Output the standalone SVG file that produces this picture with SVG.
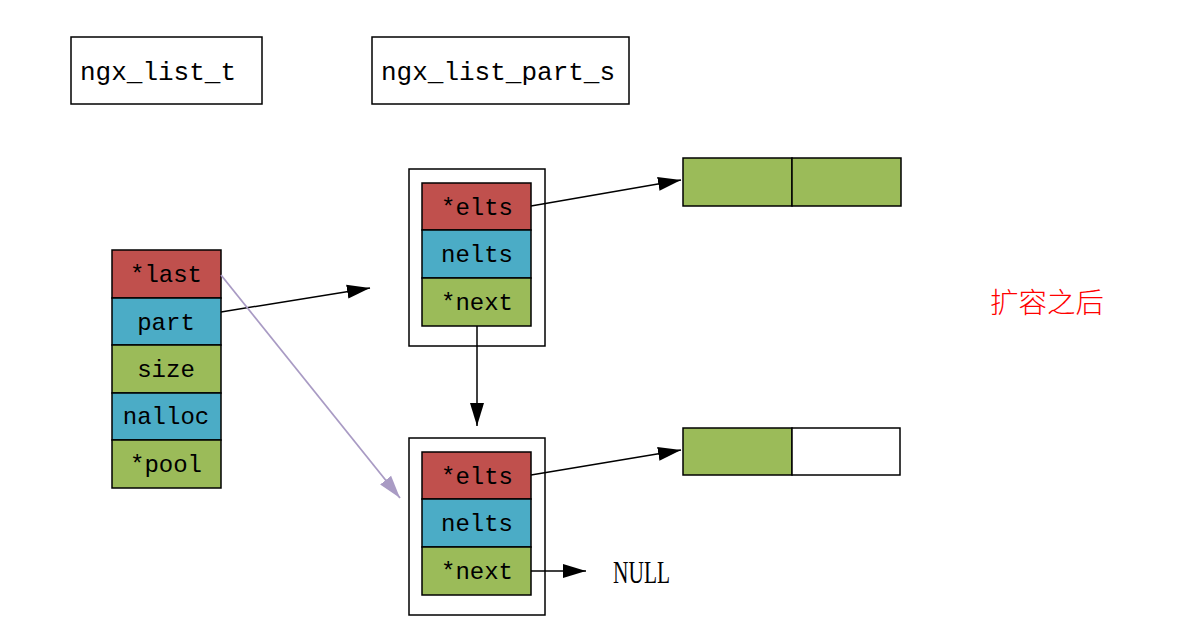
<svg xmlns="http://www.w3.org/2000/svg" width="1200" height="632" viewBox="0 0 1200 632">
<defs>
<style>
.box{fill:#fff;stroke:#000;stroke-width:1.5}
.r{fill:#C0504D;stroke:#000;stroke-width:1.5}
.b{fill:#4BACC6;stroke:#000;stroke-width:1.5}
.g{fill:#9BBB59;stroke:#000;stroke-width:1.5}
.w{fill:#fff;stroke:#000;stroke-width:1.5}
.t{font-family:"Liberation Mono","DejaVu Sans Mono",monospace;font-size:24px;fill:#000;text-anchor:middle}
.title{font-family:"Liberation Mono","DejaVu Sans Mono",monospace;font-size:26px;fill:#000}
.ln{stroke:#000;stroke-width:1.5;fill:none}
.pl{stroke:#A99BC4;stroke-width:1.8;fill:none}
</style>
<marker id="ah" markerUnits="userSpaceOnUse" markerWidth="24" markerHeight="16" refX="23" refY="8" orient="auto">
<path d="M0,1 L23,8 L0,15 z" fill="#000"/>
</marker>
<marker id="ahp" markerUnits="userSpaceOnUse" markerWidth="24" markerHeight="16" refX="23" refY="8" orient="auto">
<path d="M0,1 L23,8 L0,15 z" fill="#A99BC4"/>
</marker>
</defs>
<rect width="1200" height="632" fill="#fff"/>

<g id="label-list-t">
<rect class="box" x="71" y="37" width="191" height="67"/>
<text class="title" x="80" y="80">ngx_list_t</text>
</g>
<g id="label-list-part-s">
<rect class="box" x="372" y="37" width="257" height="67"/>
<text class="title" x="381" y="80">ngx_list_part_s</text>
</g>

<g id="list">
<rect class="r" x="112" y="250" width="109" height="48"/>
<rect class="b" x="112" y="298" width="109" height="47"/>
<rect class="g" x="112" y="345" width="109" height="48"/>
<rect class="b" x="112" y="393" width="109" height="47"/>
<rect class="g" x="112" y="440" width="109" height="48"/>
<text class="t" x="166" y="282">*last</text>
<text class="t" x="166" y="330">part</text>
<text class="t" x="166" y="377">size</text>
<text class="t" x="166" y="424">nalloc</text>
<text class="t" x="166" y="472">*pool</text>
</g>

<g id="part1">
<rect class="box" x="409" y="169" width="136" height="177"/>
<rect class="r" x="422" y="183" width="109" height="47"/>
<rect class="b" x="422" y="230" width="109" height="48"/>
<rect class="g" x="422" y="278" width="109" height="48"/>
<text class="t" x="477" y="215">*elts</text>
<text class="t" x="477" y="262">nelts</text>
<text class="t" x="477" y="310">*next</text>
</g>

<g id="part2">
<rect class="box" x="409" y="438" width="136" height="177"/>
<rect class="r" x="422" y="452" width="109" height="47"/>
<rect class="b" x="422" y="499" width="109" height="48"/>
<rect class="g" x="422" y="547" width="109" height="48"/>
<text class="t" x="477" y="484">*elts</text>
<text class="t" x="477" y="531">nelts</text>
<text class="t" x="477" y="579">*next</text>
</g>

<g id="array1">
<rect class="g" x="683" y="158" width="109" height="48"/>
<rect class="g" x="792" y="158" width="109" height="48"/>
</g>

<g id="array2">
<rect class="g" x="683" y="428" width="109" height="47"/>
<rect class="w" x="792" y="428" width="108" height="47"/>
</g>

<g id="null">
<text x="613" y="583" font-family="Liberation Serif, serif" font-size="31" textLength="57" lengthAdjust="spacingAndGlyphs">NULL</text>
</g>

<g id="note">
<text x="990" y="313" font-family="Noto Sans CJK SC, sans-serif" font-size="28.5" font-weight="300" fill="#FF0000">扩容之后</text>
</g>

<g id="connectors">
<line class="ln" x1="221" y1="312" x2="370" y2="288" marker-end="url(#ah)"/>
<line class="ln" x1="531" y1="206" x2="681" y2="180" marker-end="url(#ah)"/>
<line class="ln" x1="477" y1="326" x2="477" y2="426" marker-end="url(#ah)"/>
<line class="pl" x1="221" y1="275" x2="400" y2="498" marker-end="url(#ahp)"/>
<line class="ln" x1="531" y1="475" x2="681" y2="450" marker-end="url(#ah)"/>
<line class="ln" x1="531" y1="571" x2="586" y2="571" marker-end="url(#ah)"/>
</g>
</svg>
